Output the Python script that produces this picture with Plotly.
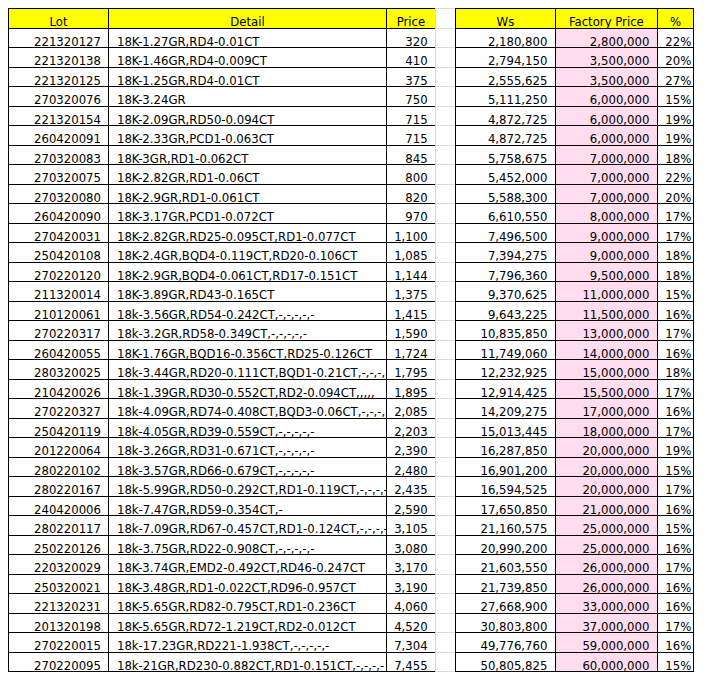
import plotly.graph_objects as go

lots = ["221320127", "221320138", "221320125", "270320076", "221320154", "260420091",
        "270320083", "270320075", "270320080", "260420090", "270420031", "250420108",
        "270220120", "211320014", "210120061", "270220317", "260420055", "280320025",
        "210420026", "270220327", "250420119", "201220064", "280220102", "280220167",
        "240420006", "280220117", "250220126", "220320029", "250320021", "221320231",
        "201320198", "270220015", "270220095"]
details = ["18K-1.27GR,RD4-0.01CT", "18K-1.46GR,RD4-0.009CT", "18K-1.25GR,RD4-0.01CT",
           "18K-3.24GR", "18K-2.09GR,RD50-0.094CT", "18K-2.33GR,PCD1-0.063CT",
           "18K-3GR,RD1-0.062CT", "18K-2.82GR,RD1-0.06CT", "18K-2.9GR,RD1-0.061CT",
           "18K-3.17GR,PCD1-0.072CT", "18K-2.82GR,RD25-0.095CT,RD1-0.077CT",
           "18K-2.4GR,BQD4-0.119CT,RD20-0.106CT", "18K-2.9GR,BQD4-0.061CT,RD17-0.151CT",
           "18K-3.89GR,RD43-0.165CT", "18k-3.56GR,RD54-0.242CT,-,-,-,-,-",
           "18k-3.2GR,RD58-0.349CT,-,-,-,-,-", "18K-1.76GR,BQD16-0.356CT,RD25-0.126CT",
           "18k-3.44GR,RD20-0.111CT,BQD1-0.21CT,-,-,-,-", "18k-1.39GR,RD30-0.552CT,RD2-0.094CT,,,,,",
           "18k-4.09GR,RD74-0.408CT,BQD3-0.06CT,-,-,-,-", "18k-4.05GR,RD39-0.559CT,-,-,-,-,-",
           "18k-3.26GR,RD31-0.671CT,-,-,-,-,-", "18k-3.57GR,RD66-0.679CT,-,-,-,-,-",
           "18k-5.99GR,RD50-0.292CT,RD1-0.119CT,-,-,-,-", "18k-7.47GR,RD59-0.354CT,-",
           "18k-7.09GR,RD67-0.457CT,RD1-0.124CT,-,-,-,-", "18k-3.75GR,RD22-0.908CT,-,-,-,-,-",
           "18K-3.74GR,EMD2-0.492CT,RD46-0.247CT", "18K-3.48GR,RD1-0.022CT,RD96-0.957CT",
           "18K-5.65GR,RD82-0.795CT,RD1-0.236CT", "18K-5.65GR,RD72-1.219CT,RD2-0.012CT",
           "18k-17.23GR,RD221-1.938CT,-,-,-,-,-", "18k-21GR,RD230-0.882CT,RD1-0.151CT,-,-,-,-"]
prices = [320, 410, 375, 750, 715, 715, 845, 800, 820, 970, 1100, 1085, 1144, 1375, 1415,
          1590, 1724, 1795, 1895, 2085, 2203, 2390, 2480, 2435, 2590, 3105, 3080, 3170,
          3190, 4060, 4520, 7304, 7455]
ws = [2180800, 2794150, 2555625, 5111250, 4872725, 4872725, 5758675, 5452000, 5588300,
      6610550, 7496500, 7394275, 7796360, 9370625, 9643225, 10835850, 11749060, 12232925,
      12914425, 14209275, 15013445, 16287850, 16901200, 16594525, 17650850, 21160575,
      20990200, 21603550, 21739850, 27668900, 30803800, 49776760, 50805825]
factory = [2800000, 3500000, 3500000, 6000000, 6000000, 6000000, 7000000, 7000000,
           7000000, 8000000, 9000000, 9000000, 9500000, 11000000, 11500000, 13000000,
           14000000, 15000000, 15500000, 17000000, 18000000, 20000000, 20000000, 20000000,
           21000000, 25000000, 25000000, 26000000, 26000000, 33000000, 37000000, 59000000,
           60000000]
pct = [22, 20, 27, 15, 19, 19, 18, 22, 20, 17, 17, 18, 18, 15, 16, 17, 16, 18, 17, 16, 17,
       19, 15, 17, 16, 15, 16, 17, 16, 16, 17, 16, 15]
headers = ["Lot", "Detail", "Price", "", "Ws", "Factory Price", "%"]

n = len(lots)
cols = [lots, details, [f"{p:,}" for p in prices], [""] * n,
        [f"{v:,}" for v in ws], [f"{v:,}" for v in factory], [f"{v}%" for v in pct]]

font = dict(family="Liberation Sans Narrow, DejaVu Sans Condensed, Liberation Sans", size=13, color="black")
lines = ["black", "black", "black", "#d9d9d9", "black", "black", "black"]

fig = go.Figure(go.Table(
    columnwidth=[102, 280, 50, 20, 101, 103, 37],
    header=dict(values=headers, height=20,
                fill_color=["#FFFF00", "#FFFF00", "#FFFF00", "white", "#FFFF00", "#FFFF00", "#FFFF00"],
                line_color=lines, align="center", font=font),
    cells=dict(values=cols, height=19.5,
               fill_color=["white", "white", "white", "white", "white", "#FFDDEE", "white"],
               line_color=lines,
               align=["right", "left", "right", "right", "right", "right", "left"],
               font=font),
    domain=dict(x=[0, 686 / 707], y=[0, 1]),
))
fig.update_layout(width=707, height=681, margin=dict(l=0, r=0, t=0, b=0),
                  paper_bgcolor="white")
fig.write_html("out.html")
